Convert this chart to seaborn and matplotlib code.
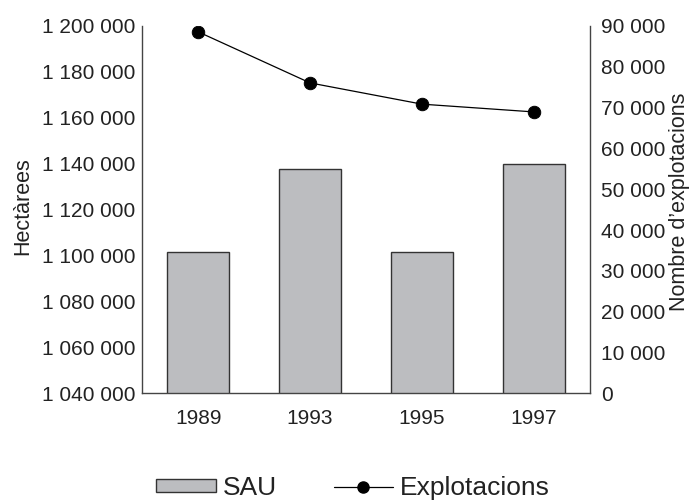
import pandas as pd
import matplotlib.pyplot as plt
import seaborn as sns
from matplotlib.patches import Patch
from matplotlib.lines import Line2D
from matplotlib.ticker import FuncFormatter

years = ["1989", "1993", "1995", "1997"]
sau = [1101400, 1137500, 1101400, 1139800]
explotacions = [88500, 76000, 70800, 68900]

df = pd.DataFrame({"any": years, "SAU": sau, "Explotacions": explotacions})

sns.set_style("white")
plt.rcParams["font.family"] = ["Liberation Sans", "DejaVu Sans"]

bar_color = "#bcbdc0"
text_color = "#222222"
fig = plt.figure(figsize=(6.92, 5.01), dpi=100)
ax = fig.add_axes([0.2055, 0.2146, 0.647, 0.7341])

# bars: SAU on the left axis
sns.barplot(data=df, x="any", y="SAU", color=bar_color, width=0.55,
            edgecolor="#333333", linewidth=1, saturation=1, ax=ax)
ax.set_ylim(1040000, 1200000)
ax.set_yticks(range(1040000, 1200001, 20000))

# line: Explotacions on the right axis
ax2 = ax.twinx()
sns.pointplot(data=df, x="any", y="Explotacions", color="black",
              markers="o", linestyles="-", markersize=9, linewidth=0.9,
              ax=ax2)
ax2.set_ylim(0, 90000)
ax2.set_yticks(range(0, 90001, 10000))
ax.set_xlim(-0.5, 3.5)


def spaced(v, pos):
    return f"{int(v):,}".replace(",", " ")


ax.yaxis.set_major_formatter(FuncFormatter(spaced))
ax2.yaxis.set_major_formatter(FuncFormatter(spaced))

for a in (ax, ax2):
    a.tick_params(length=0, labelsize=15, colors=text_color)
    for s in a.spines.values():
        s.set_visible(False)
ax.spines["left"].set_visible(True)
ax.spines["bottom"].set_visible(True)
ax2.spines["right"].set_visible(True)
for s in (ax.spines["left"], ax.spines["bottom"], ax2.spines["right"]):
    s.set_color("#444444")
    s.set_linewidth(1)
ax.tick_params(axis="y", pad=5)
ax2.tick_params(axis="y", pad=8)
ax.tick_params(axis="x", pad=11)

ax.set_xlabel("")
ax.set_ylabel("Hectàrees", fontsize=15.5, color=text_color)
ax.yaxis.set_label_coords(-0.243, 0.51)
ax2.set_ylabel("Nombre d\u2019explotacions", fontsize=15.5, color=text_color)
ax2.yaxis.set_label_coords(1.176, 0.52)

handles = [
    Patch(facecolor=bar_color, edgecolor="#333333", linewidth=1, label="SAU"),
    Line2D([0], [0], color="black", linewidth=0.9, marker="o", markersize=8,
           label="Explotacions"),
]
fig.legend(handles=handles, loc="center", bbox_to_anchor=(0.51, 0.026),
           ncol=2, frameon=False, fontsize=19, handlelength=2.27,
           handleheight=0.42, columnspacing=2.16, handletextpad=0.23,
           labelcolor=text_color)

fig.savefig("out.png", dpi=100)
